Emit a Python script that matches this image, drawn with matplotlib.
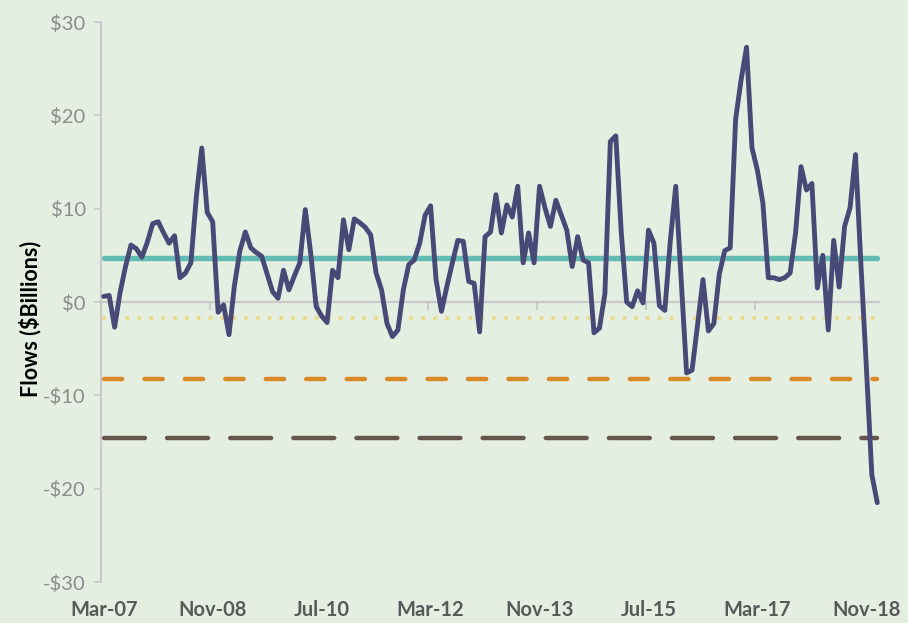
import matplotlib
matplotlib.use("Agg")
import matplotlib.pyplot as plt
from matplotlib import font_manager

# ---- data ----
tick_labels = ["Mar-07", "Nov-08", "Jul-10", "Mar-12", "Nov-13", "Jul-15", "Mar-17", "Nov-18"]
flows = [
    0.6, 0.7, -2.7, 1.0, 3.8, 6.1, 5.7, 4.8, 6.4, 8.4,
    8.6, 7.4, 6.3, 7.1, 2.6, 3.1, 4.2, 11.3, 16.5, 9.6,
    8.6, -1.1, -0.3, -3.5, 1.8, 5.5, 7.5, 5.8, 5.3, 4.9,
    3.0, 1.1, 0.4, 3.4, 1.3, 2.8, 4.2, 9.9, 5.2, -0.5,
    -1.5, -2.2, 3.4, 2.6, 8.8, 5.6, 8.9, 8.5, 8.0, 7.2,
    3.1, 1.3, -2.3, -3.7, -3.0, 1.3, 4.0, 4.5, 6.3, 9.3,
    10.3, 2.4, -1.0, 1.7, 4.2, 6.6, 6.5, 2.2, 2.0, -3.2,
    7.0, 7.5, 11.5, 7.4, 10.4, 9.1, 12.4, 4.2, 7.4, 4.2,
    12.4, 10.1, 8.1, 10.9, 9.3, 7.7, 3.8, 7.0, 4.5, 4.2,
    -3.3, -2.8, 0.9, 17.2, 17.8, 7.5, 0.0, -0.5, 1.2, -0.1,
    7.7, 6.3, -0.4, -0.9, 6.5, 12.4, 2.5, -7.6, -7.3, -2.5,
    2.4, -3.1, -2.3, 3.0, 5.5, 5.8, 19.6, 23.8, 27.3, 16.5,
    14.1, 10.6, 2.6, 2.6, 2.4, 2.6, 3.1, 7.4, 14.5, 12.0,
    12.7, 1.5, 5.0, -3.0, 6.6, 1.6, 8.1, 10.1, 15.8, 4.0,
    -7.0, -18.5, -21.5,
]
mean_level = 4.7
level_dotted = -1.7
level_orange = -8.2
level_brown = -14.6
yticks = [-30, -20, -10, 0, 10, 20, 30]
ytick_labels = ["-$30", "-$20", "-$10", "$0", "$10", "$20", "$30"]

# ---- fonts ----
avail = {f.name for f in font_manager.fontManager.ttflist}
fam = [f for f in ["Liberation Sans Narrow", "Lato", "DejaVu Sans"] if f in avail]
plt.rcParams["font.family"] = fam

bg = "#E4EEE1"
n = len(flows)
x = list(range(n))

fig = plt.figure(figsize=(9.08, 6.23), dpi=100, facecolor=bg)
ax = fig.add_axes([101 / 908, 1 - 582 / 623, 779 / 908, 560 / 623], facecolor=bg)

ax.set_xlim(-0.5, n - 0.5)
ax.set_ylim(-30, 30)

# zero axis line
ax.axhline(0, color="#C9C9C9", lw=1.6, zorder=1)
for k in range(1, 8):
    b = 20 * k - 0.5
    if b < n - 0.5:
        ax.plot([b, b], [0, -0.7], color="#C9C9C9", lw=1.4, zorder=1)

ax.plot(x, [level_brown] * n, color="#66554A", lw=3.2, dashes=(9.2, 5.0),
        dash_capstyle="round", zorder=2)
ax.plot(x, [level_orange] * n, color="#D98A26", lw=3.2, dashes=(4.1, 5.0),
        dash_capstyle="round", zorder=2)
ax.plot(x, [level_dotted] * n, color="#EADB8C", lw=3.2, dashes=(0.01, 2.65),
        dash_capstyle="round", zorder=2)
ax.plot(x, [mean_level] * n, color="#63BCB4", lw=3.9, solid_capstyle="round", zorder=3)
ax.plot(x, flows, color="#484977", lw=3.5, solid_joinstyle="round",
        solid_capstyle="round", zorder=4)

for s in ["top", "right", "bottom"]:
    ax.spines[s].set_visible(False)
ax.spines["left"].set_color("#C9C9C9")
ax.spines["left"].set_linewidth(1.4)

ax.set_yticks(yticks)
ax.set_yticklabels(ytick_labels)
ax.tick_params(axis="y", colors="#C9C9C9", labelcolor="#8C8C8C", labelsize=14.5,
               length=5, width=1.2, pad=6)

ax.set_xticks(list(range(0, n, 20)))
ax.set_xticklabels(tick_labels, fontweight="bold")
ax.tick_params(axis="x", length=0, labelcolor="#595959", labelsize=14.5, pad=13)

fig.text(30 / 908, 1 - 319 / 623, "Flows ($Billions)", rotation=90, ha="center",
         va="center", fontsize=15.5, fontweight="bold", color="#000000")

fig.savefig("out.png", dpi=100, facecolor=bg)
